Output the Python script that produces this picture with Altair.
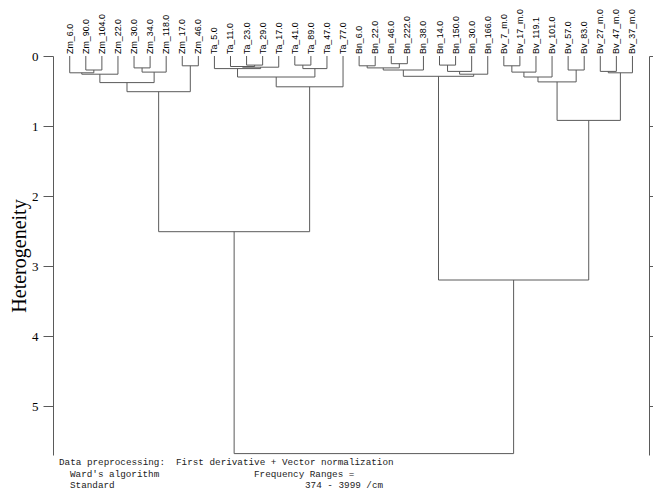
import altair as alt
import pandas as pd

# ---- data ----
leaves = ["Zm_6.0", "Zm_90.0", "Zm_104.0", "Zm_22.0", "Zm_30.0", "Zm_34.0", "Zm_118.0",
          "Zm_17.0", "Zm_46.0",
          "Ta_5.0", "Ta_11.0", "Ta_23.0", "Ta_29.0", "Ta_17.0", "Ta_41.0", "Ta_89.0",
          "Ta_47.0", "Ta_77.0",
          "Bn_6.0", "Bn_22.0", "Bn_46.0", "Bn_222.0", "Bn_38.0", "Bn_14.0", "Bn_150.0",
          "Bn_30.0", "Bn_166.0",
          "Bv_7_m.0", "Bv_17_m.0", "Bv_119.1", "Bv_101.0", "Bv_57.0", "Bv_83.0",
          "Bv_27_m.0", "Bv_47_m.0", "Bv_37_m.0"]

# merges: node ids 0..35 are leaves, each merge creates node 36, 37, ...
merge_left = [1, 0, 37, 4, 39, 38, 7, 41,
              11, 10, 45, 9, 14, 48, 47, 50, 43,
              18, 20, 53, 55, 23, 57, 58, 56,
              27, 61, 62, 31, 63, 33, 66, 65, 60, 52]
merge_right = [2, 36, 3, 5, 6, 40, 8, 42,
               12, 44, 13, 46, 15, 16, 49, 17, 51,
               19, 21, 54, 22, 24, 25, 26, 59,
               28, 29, 30, 32, 64, 34, 35, 67, 68, 69]
merge_height = [0.20, 0.24, 0.26, 0.17, 0.23, 0.38, 0.14, 0.51,
                0.13, 0.15, 0.16, 0.18, 0.13, 0.18, 0.30, 0.44, 2.51,
                0.14, 0.11, 0.17, 0.20, 0.13, 0.22, 0.26, 0.29,
                0.14, 0.23, 0.30, 0.20, 0.37, 0.22, 0.24, 0.92, 3.20, 5.68]

y_ticks = [0, 1, 2, 3, 4, 5]
y_max = 5.7

footer_text = ["Data preprocessing:", "First derivative + Vector normalization",
               "Ward's algorithm", "Frequency Ranges =",
               "Standard", "374 - 3999 /cm"]
footer_px = [6, 123, 17, 201, 17, 252]
footer_py = [406, 406, 417.5, 417.5, 429, 429]

# ---- dendrogram layout (midpoint of children) ----
xpos = [float(i) for i in range(len(leaves))]
hpos = [0.0] * len(leaves)
segs = []
for l, r, h in zip(merge_left, merge_right, merge_height):
    xl, hl, xr, hr = xpos[l], hpos[l], xpos[r], hpos[r]
    segs.append(dict(x=xl, x2=xl, y=hl, y2=h))
    segs.append(dict(x=xr, x2=xr, y=hr, y2=h))
    segs.append(dict(x=xl, x2=xr, y=h, y2=h))
    xpos.append((xl + xr) / 2)
    hpos.append(h)

seg_df = pd.DataFrame(segs)
leaf_df = pd.DataFrame({"x": list(range(len(leaves))), "y": [0.0] * len(leaves), "label": leaves})
foot_df = pd.DataFrame({"t": footer_text, "px": footer_px, "py": footer_py})
axis_df = pd.DataFrame({"y": [0.0]})

xscale = alt.Scale(domain=[-1.04, 36.03], nice=False, zero=False)
yscale = alt.Scale(domain=[0, y_max], reverse=True, nice=False, zero=False)

W, H = 596, 399
line_col = "#5a5a5a"

rules = alt.Chart(seg_df).mark_rule(color=line_col, strokeWidth=1).encode(
    x=alt.X("x:Q", scale=xscale, axis=None),
    x2="x2:Q",
    y=alt.Y("y:Q", scale=yscale, axis=alt.Axis(
        values=y_ticks, tickSize=10, grid=False,
        labelFont="Liberation Serif", labelFontSize=13, labelColor="black", labelPadding=5,
        domainColor=line_col, tickColor=line_col,
        title="Heterogeneity", titleFont="Liberation Serif", titleFontSize=20,
        titleFontWeight="normal", titleColor="black", titleX=-24)),
    y2="y2:Q",
)

labels = alt.Chart(leaf_df).mark_text(
    angle=270, align="left", baseline="middle", dx=2,
    font="Liberation Sans", fontSize=8.9, color="black"
).encode(
    x=alt.X("x:Q", scale=xscale, axis=None),
    y=alt.Y("y:Q", scale=yscale, axis=None),
    text="label:N",
)

right_axis = alt.Chart(axis_df).mark_point(opacity=0).encode(
    y=alt.Y("y:Q", scale=yscale, axis=alt.Axis(
        orient="right", values=y_ticks, tickSize=10, labels=False, title=None, grid=False,
        domainColor=line_col, tickColor=line_col)),
)

footer = alt.Chart(foot_df).mark_text(
    align="left", baseline="middle", font="Liberation Mono", fontSize=9.3, color="#222222"
).encode(
    x=alt.X("px:Q", scale=None),
    y=alt.Y("py:Q", scale=None),
    text="t:N",
)

chart = alt.layer(rules, labels, right_axis, footer).resolve_scale(y="independent").properties(
    width=W, height=H,
    autosize=alt.AutoSizeParams(type="none"),
    padding={"left": 45, "top": 48, "right": 4, "bottom": 36},
    background="white",
).configure_view(stroke=None)

chart.save("out.html", embed_options={"renderer": "svg", "actions": False})
